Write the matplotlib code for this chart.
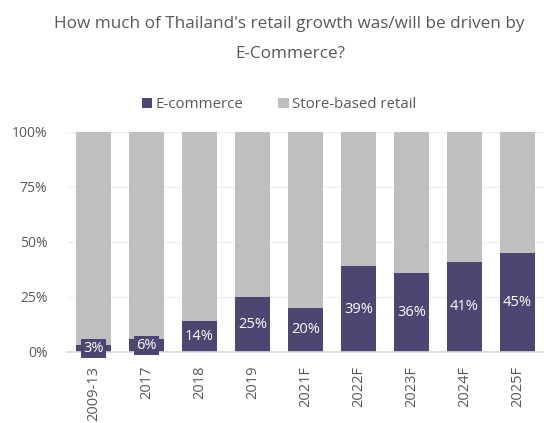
import matplotlib
matplotlib.use('Agg')
import matplotlib.pyplot as plt
import numpy as np

# 年份与电商占比
years = ['2009-13', '2017', '2018', '2019', '2021F', '2022F', '2023F', '2024F', '2025F']
ecommerce = [3, 6, 14, 25, 20, 39, 36, 41, 45]
store = [100 - v for v in ecommerce]

purple = '#4b4772'
grey = '#bfbfbf'
text_c = '#595959'

plt.rcParams['font.family'] = ['Open Sans', 'DejaVu Sans']

fig = plt.figure(figsize=(5.44, 4.23), dpi=100)
ax = fig.add_axes([0.123, 0.168, 0.877, 0.52])

x = np.arange(len(years))
ax.bar(x, ecommerce, width=0.66, color=purple, label='E-commerce', zorder=3)
ax.bar(x, store, width=0.66, bottom=ecommerce, color=grey, label='Store-based retail', zorder=3)

# 数据标签
for xi, v in zip(x, ecommerce):
    if v < 10:
        ax.text(xi, v / 2, f'{v}%', ha='center', va='center', color='white', fontsize=10.5,
                zorder=5, bbox=dict(boxstyle='square,pad=0.15', fc=purple, ec='none'))
    else:
        ax.text(xi, v / 2, f'{v}%', ha='center', va='center', color='white', fontsize=10.5, zorder=5)

ax.set_xlim(-0.5, len(years) - 0.5)
ax.set_ylim(0, 100)
ax.set_yticks([0, 25, 50, 75, 100])
ax.set_yticklabels(['0%', '25%', '50%', '75%', '100%'])
ax.set_xticks(x)
ax.set_xticklabels(years, rotation=90)
ax.tick_params(axis='both', length=0, colors=text_c, labelsize=10)
ax.tick_params(axis='x', labelsize=10.5)
ax.tick_params(axis='y', pad=14)
ax.tick_params(axis='x', pad=10)

ax.grid(axis='y', color='#efefef', linewidth=1, zorder=0)
for s in ['top', 'right', 'left']:
    ax.spines[s].set_visible(False)
ax.spines['bottom'].set_color('#d9d9d9')
ax.spines['bottom'].set_linewidth(1.2)
ax.spines['bottom'].set_zorder(4)

fig.text(0.531, 0.944, "How much of Thailand's retail growth was/will be driven by",
         ha='center', va='center', fontsize=12.3, color=text_c)
fig.text(0.533, 0.872, 'E-Commerce?', ha='center', va='center', fontsize=12.3, color=text_c)

fig.legend(loc='center', bbox_to_anchor=(0.513, 0.752), ncol=2, frameon=False,
           fontsize=10.8, handlelength=0.7, handleheight=0.7, handletextpad=0.25,
           columnspacing=2.3, labelcolor=text_c)

fig.savefig('out.png', dpi=100)
